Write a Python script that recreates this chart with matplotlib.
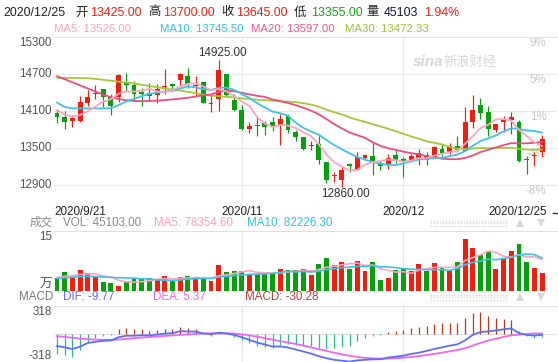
import numpy as np
import matplotlib
matplotlib.use('Agg')
import matplotlib.pyplot as plt
from matplotlib.transforms import blended_transform_factory as btf

plt.rcParams['font.family'] = ['Liberation Sans', 'Noto Sans CJK SC']

W, H, DPI = 558, 362, 100

# ---------------- data ----------------
opens = [14056, 14003, 13938, 13928, 14228, 14368, 14448, 14314, 14314, 14555,
         14518, 14405, 14394, 14351, 14480, 14528, 14593, 14662, 14502, 14566,
         14212, 14287, 14689, 14271, 14110, 13804, 13874, 13906, 13912, 13869,
         14019, 13762, 13671, 13525, 13563, 13279, 13040, 12974, 13235, 13134,
         13333, 13365, 13260, 13231, 13387, 13320, 13296, 13330, 13392, 13349,
         13483, 13430, 13537, 13456, 13912, 14191, 14083, 13790, 13912, 13955,
         13912, 13322, 13365, 13425]
highs = [14126, 14089, 14035, 14341, 14432, 14512, 14448, 14368, 14689, 14716,
         14582, 14475, 14555, 14528, 14780, 14555, 14705, 14786, 14662, 14566,
         14368, 14925, 14700, 14378, 14196, 13922, 14019, 13938, 13992, 14046,
         14046, 13794, 13671, 13617, 13698, 13279, 13108, 13188, 13258, 13430,
         13403, 13580, 13285, 13403, 13457, 13349, 13403, 13480, 13430, 13526,
         13564, 13580, 13687, 14154, 14352, 14304, 14180, 13885, 14019, 14083,
         13955, 13376, 13440, 13700]
lows = [13905, 13799, 13842, 13920, 14180, 14287, 14160, 14035, 14233, 14421,
        14260, 14174, 14271, 14217, 14368, 14459, 14502, 14475, 14340, 14217,
        14083, 14099, 14314, 14099, 13788, 13740, 13697, 13713, 13767, 13547,
        13740, 13618, 13457, 13467, 13242, 12936, 12946, 12860, 13108, 13134,
        13296, 13054, 13134, 13161, 13258, 13027, 13279, 13230, 13215, 13349,
        13376, 13403, 13440, 13456, 13816, 13966, 13697, 13751, 13762, 13724,
        13269, 13081, 13199, 13355]
closes = [13992, 13912, 13987, 14244, 14325, 14373, 14314, 14180, 14679, 14512,
          14368, 14378, 14341, 14459, 14485, 14502, 14689, 14528, 14512, 14228,
          14217, 14759, 14351, 14110, 13804, 13858, 13853, 13831, 13842, 13971,
          13794, 13671, 13483, 13537, 13298, 12974, 13050, 13134, 13210, 13344,
          13392, 13280, 13210, 13338, 13280, 13270, 13376, 13420, 13300, 13510,
          13413, 13526, 13467, 13923, 14116, 14062, 13798, 13890, 13960, 14005,
          13295, 13300, 13385, 13645]
volumes = [32000, 47500, 33000, 52000, 44000, 34000, 21500, 19000, 12000, 25000,
           28500, 29000, 31000, 28000, 36000, 25500, 35000, 37000, 32000, 29000,
           24000, 65000, 48000, 49500, 49500, 40500, 43000, 43000, 44000, 53700,
           52000, 52000, 53700, 39500, 67100, 81400, 64600, 72100, 54500, 74600,
           49600, 72100, 26900, 31900, 52000, 56200, 50500, 67100, 49600, 70500,
           56200, 49600, 72100, 129900, 108000, 90000, 98000, 55000, 79500, 100000,
           118000, 72000, 56700, 45103]

# moving-average values before a full window exists
ma5_head = [14110, 14040, 14005, 14030]
ma10_head = [14233, 14160, 14140, 14137, 14137, 14137, 14137, 14140, 14190]
ma20_head = [14660, 14610, 14560, 14510, 14460, 14410, 14360, 14320, 14290, 14270,
             14258, 14255, 14258, 14263, 14272, 14282, 14295, 14310, 14328]
ma30_head = [14630, 14630, 14630, 14630, 14625, 14615, 14600, 14585, 14570, 14555,
             14540, 14520, 14500, 14480, 14460, 14440, 14425, 14405, 14385, 14360,
             14345, 14335, 14325, 14315, 14300, 14290, 14278, 14270, 14263]
vma5_head = [33000, 36000, 38000, 41000]
vma10_head = [31000, 32500, 34000, 35500, 36000, 35500, 34500, 33500, 32500]

dif = [-135, -150, -170, -142, -101, -88, -76, -73, -36, -20,
       -19, -14, -15, -6, 4, 10, 31, 28, 28, 7,
       -2, 15, 6, -10, -36, -67, -97, -118, -141, -140,
       -152, -174, -197, -220, -250, -272, -290, -300, -310, -296,
       -290, -284, -284, -265, -255, -243, -224, -210, -190, -168,
       -150, -131, -116, -72, -10, 22, 29, 40, 52, 63,
       10, -10, -18, -9.77]
dea = [-25, -32, -42, -52, -58, -63, -66, -67, -62, -55,
       -47, -40, -34, -28, -22, -16, -10, -4, 2, 5,
       7, 8, 8, 5, -3, -15, -30, -47, -64, -80,
       -96, -112, -130, -150, -170, -190, -210, -228, -245, -258,
       -268, -274, -277, -276, -272, -266, -258, -248, -237, -224,
       -210, -195, -180, -160, -130, -100, -74, -52, -33, -15,
       -8, 0, 6, 5.37]

# header texts as shown in the picture
hdr_date = '2020/12/25'
hdr_open, hdr_high, hdr_close, hdr_low = '13425.00', '13700.00', '13645.00', '13355.00'
hdr_vol, hdr_pct = '45103', '1.94%'
hdr_ma = ['MA5: 13526.00', 'MA10: 13745.50', 'MA20: 13597.00', 'MA30: 13472.33']
hdr_vol_line = ['VOL: 45103.00', 'MA5: 78354.60', 'MA10: 82226.30']
hdr_macd = ['DIF: -9.77', 'DEA: 5.37', 'MACD: -30.28']

date_labels = ['2020/9/21', '2020/11', '2020/12', '2020/12/25']
date_idx = [0, 24, 45, 63]
price_ticks = [15300, 14700, 14100, 13500, 12900]
pct_labels = ['9%', '5%', '1%', '-4%', '-8%']

# ---------------- helpers ----------------
def with_head(values, head, n):
    out = list(head)
    for i in range(len(head), len(values)):
        out.append(float(np.mean(values[i - n + 1:i + 1])))
    return np.array(out)

o, h, l, c = map(np.array, (opens, highs, lows, closes))
v = np.array(volumes, dtype=float)
x = np.arange(len(c))
ma5 = with_head(c, ma5_head, 5)
ma10 = with_head(c, ma10_head, 10)
ma20 = with_head(c, ma20_head, 20)
ma30 = with_head(c, ma30_head, 30)
vma5 = with_head(v, vma5_head, 5)
vma10 = with_head(v, vma10_head, 10)
dif = np.array(dif); dea = np.array(dea)
macd = 2 * (dif - dea)

RED, GREEN = '#F01E0E', '#06A00E'
cols = [RED if cc >= oo else GREEN for oo, cc in zip(o, c)]
GRID = '#E8E8E8'
C_MA5, C_MA10, C_MA20, C_MA30 = '#FFA3C2', '#3EC3E3', '#EB4C82', '#A4C93A'

fig = plt.figure(figsize=(W / DPI, H / DPI), dpi=DPI)

def px_axes(x0, y0, x1, y1, z=1):
    a = fig.add_axes([x0 / W, 1 - y1 / H, (x1 - x0) / W, (y1 - y0) / H])
    a.set_zorder(z)
    a.patch.set_alpha(0)
    for s in a.spines.values():
        s.set_visible(False)
    a.set_xticks([]); a.set_yticks([])
    a.set_xlim(-0.39, 64.94)
    return a

FS = 8.4
LAB = '#555555'

# ---------------- main price panel ----------------
ax = px_axes(54, 36.5, 557, 203.5)
ax.set_ylim(12600, 15300)
ax.spines['top'].set_visible(True)
ax.spines['top'].set_color('#E0E0E0'); ax.spines['top'].set_linewidth(0.75)
for p in price_ticks[1:]:
    ax.axhline(p, color=GRID, lw=0.75, zorder=0)
for i in date_idx[1:3]:
    ax.axvline(i, color=GRID, lw=0.75, zorder=0)

tl = btf(ax.transAxes, ax.transData)
for p in price_ticks:
    ax.text(-0.004, p, str(p), transform=tl, ha='right',
            va='top' if p == price_ticks[0] else 'center', fontsize=FS, color=LAB)
for p, lab in zip(price_ticks, pct_labels):
    ax.text(0.979, p, lab, transform=tl, ha='right', va='top', fontsize=FS,
            color='#C8C8C8', zorder=1)

ax.vlines(x, l, h, colors=cols, lw=0.85, zorder=4)
ax.bar(x, np.maximum(np.abs(c - o), 16), bottom=np.minimum(o, c), width=0.64,
       color=cols, lw=0, zorder=4)
for m, col in ((ma30, C_MA30), (ma20, C_MA20), (ma10, C_MA10), (ma5, C_MA5)):
    ax.plot(x, m, color=col, lw=1.3, zorder=5, solid_capstyle='round')

imax = int(np.argmax(h)); imin = int(np.argmin(l))
ax.annotate(f'{h[imax]:.2f}', xy=(imax, h[imax]), xytext=(4, 1), textcoords='offset pixels',
            ha='center', va='bottom', fontsize=FS, color='#333333', zorder=6)
ax.annotate(f'{l[imin]:.2f}', xy=(imin, l[imin]), xytext=(4, -1), textcoords='offset pixels',
            ha='center', va='top', fontsize=FS, color='#333333', zorder=6)

td = btf(ax.transData, ax.transAxes)
ta = ax.transAxes
yd = -(212 - 203.5) / 167.0
ax.text(0.0, yd, date_labels[0], transform=ta, ha='left', va='center', fontsize=FS, color='#222222')
ax.text(date_idx[1], yd, date_labels[1], transform=td, ha='center', va='center', fontsize=FS, color='#222222')
ax.text(date_idx[2], yd, date_labels[2], transform=td, ha='center', va='center', fontsize=FS, color='#222222')
ax.text(0.98, yd, date_labels[3], transform=ta, ha='right', va='center', fontsize=FS, color='#222222')

# ---------------- volume panel ----------------
axv = px_axes(54, 231, 557, 290.7)
axv.set_ylim(0, 150000)
axv.spines['top'].set_visible(True)
axv.spines['top'].set_color('#E0E0E0'); axv.spines['top'].set_linewidth(0.75)
for i in date_idx[1:3]:
    axv.axvline(i, color=GRID, lw=0.75, zorder=0)
axv.bar(x, v, width=0.64, color=cols, lw=0, zorder=3)
axv.plot(x, vma5, color=C_MA5, lw=1.2, zorder=4)
axv.plot(x, vma10, color=C_MA10, lw=1.2, zorder=4)
tlv = btf(axv.transAxes, axv.transData)
axv.text(-0.004, 150000, '15', transform=tlv, ha='right', va='top', fontsize=FS, color=LAB)
axv.text(-0.004, 0, '万', transform=tlv, ha='right', va='bottom', fontsize=FS + 0.6, color=LAB)

# ---------------- MACD panel ----------------
axm = px_axes(54, 305.7, 557, 362.3)
axm.set_ylim(-318, 318)
axm.spines['top'].set_visible(True)
axm.spines['top'].set_color('#E0E0E0'); axm.spines['top'].set_linewidth(0.75)
axm.axhline(0, color='#E0E0E0', lw=0.75, zorder=0)
for i in date_idx[1:3]:
    axm.axvline(i, color=GRID, lw=0.75, zorder=0)
mcols = ['#C23413' if m >= 0 else '#2BBB8B' for m in macd]
axm.vlines(x, 0, macd, colors=mcols, lw=0.9, zorder=3)
axm.plot(x, dea, color='#EE66EE', lw=1.3, zorder=4)
axm.plot(x, dif, color='#5F6FF5', lw=1.3, zorder=4)
tlm = btf(axm.transAxes, axm.transData)
axm.text(-0.004, 318, '318', transform=tlm, ha='right', va='top', fontsize=FS, color=LAB)
axm.text(-0.004, -318, '-318', transform=tlm, ha='right', va='bottom', fontsize=FS, color=LAB)

# ---------------- overlay for headers ----------------
ov = fig.add_axes([0, 0, 1, 1])
ov.set_xlim(0, W); ov.set_ylim(H, 0); ov.axis('off'); ov.set_zorder(10)
ov.patch.set_alpha(0)

def t(xp, yp, s, col, fs=FS, **kw):
    ov.text(xp, yp, s, color=col, fontsize=fs, va='center', **kw)

BLK = '#222222'
F1 = 8.9
y1 = 12.5
t(3, y1, hdr_date, BLK, F1)
t(75, y1, '开', BLK, F1); t(90, y1, hdr_open, RED, F1)
t(148, y1, '高', BLK, F1); t(163, y1, hdr_high, RED, F1)
t(221, y1, '收', BLK, F1); t(236, y1, hdr_close, RED, F1)
t(294, y1, '低', BLK, F1); t(311, y1, hdr_low, '#17A117', F1)
t(366, y1, '量', BLK, F1); t(384, y1, hdr_vol, '#14143C', F1)
t(424, y1, hdr_pct, RED, F1)

F2 = 8.2
y2 = 28.5
t(54, y2, hdr_ma[0], '#FF9EBF', F2)
t(160, y2, hdr_ma[1], '#34C1E0', F2)
t(251, y2, hdr_ma[2], '#F0558C', F2)
t(345, y2, hdr_ma[3], '#9DC436', F2)

# watermark
t(413, 62, 'sina', '#D6D6D6', 11, fontstyle='italic', fontweight='bold')
t(443, 62, '新浪财经', '#D6D6D6', 9.5)

yv = 223
t(53, yv, '成交', '#888888', FS, ha='right')
t(63, yv, hdr_vol_line[0], '#8A8A8A', FS)
t(154, yv, hdr_vol_line[1], '#FF9EBF', FS)
t(247, yv, hdr_vol_line[2], '#34C1E0', FS)

ym = 297
t(53, ym, 'MACD', '#777777', FS, ha='right')
t(63, ym, hdr_macd[0], '#5F6FF5', FS)
t(153, ym, hdr_macd[1], '#E868E8', FS)
t(245, ym, hdr_macd[2], '#B84040', FS)

# UI controls (dotted bar and arrows)
for yc in (yv, ym):
    xs = np.arange(431, 507, 3.0)
    for dy in (-2.5, 0, 2.5):
        ov.plot(xs, np.full(xs.shape, yc + dy), ls='none', marker='s', ms=1.1,
                color='#DDDDDD', mew=0)
    ov.plot([520], [yc], marker='^', ms=6, color='#D8D8D8', mew=0)
    ov.plot([541], [yc], marker='v', ms=6, color='#D8D8D8', mew=0)
ov.plot([553, 557], [213, 213], color='#223355', lw=1.0)

fig.savefig('out.png', dpi=DPI)
